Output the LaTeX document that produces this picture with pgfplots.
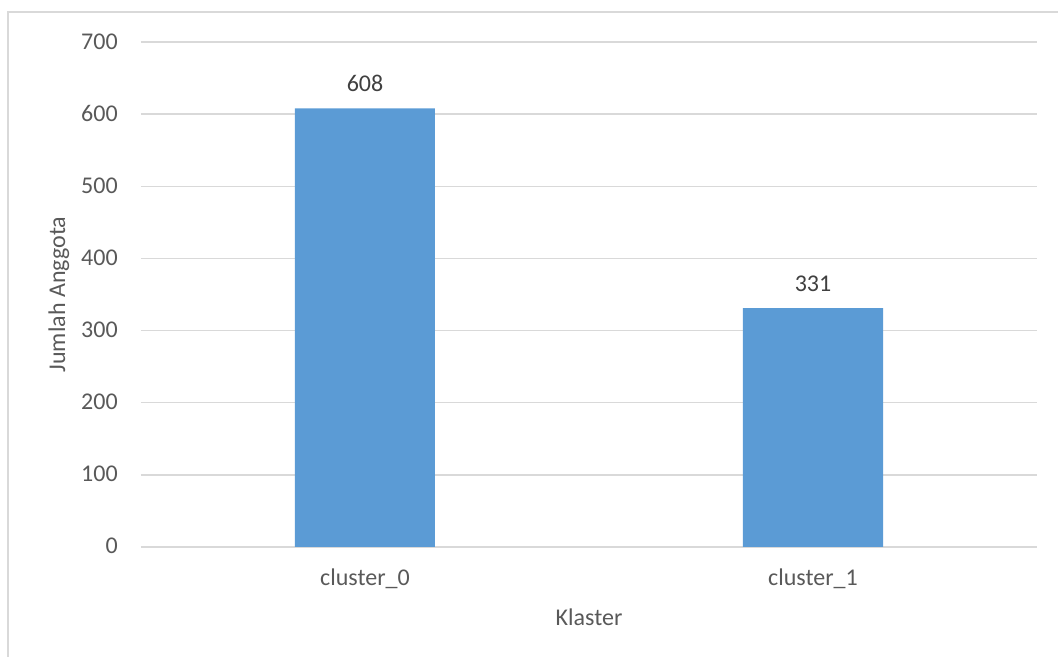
\documentclass[border=0pt]{standalone}
\usepackage{fontspec}
\setmainfont{Carlito}
\usepackage{pgfplots}
\pgfplotsset{compat=1.18}
\definecolor{barblue}{HTML}{5B9BD5}
\definecolor{gridgray}{HTML}{D9D9D9}
\definecolor{labelgray}{HTML}{595959}
\definecolor{valuegray}{HTML}{404040}
\newcommand{\chartfont}{\fontsize{18}{21.6}\selectfont}
\begin{document}
\begin{tikzpicture}
\useasboundingbox (-105.75pt,-82.5pt) rectangle (687.75pt,410.25pt);
% chart area frame
\draw[gridgray, line width=0.9pt] (-99.75pt,-120pt) -- (-99.75pt,401.25pt) -- (740pt,401.25pt);
\begin{axis}[
  at={(0pt,0pt)}, anchor=south west,
  scale only axis, width=672pt, height=378.75pt,
  xmin=-0.5, xmax=1.5, ymin=0, ymax=700,
  ytick={0,100,...,700},
  xtick={0,1}, xticklabels={cluster\_0, cluster\_1},
  ybar, bar width=105pt,
  axis line style={draw=none},
  major tick length=0pt, tick style={draw=none},
  ymajorgrids, grid style={gridgray, line width=1pt},
  /pgf/number format/assume math mode=true,
  tick label style={font=\chartfont, text=labelgray},
  yticklabel style={anchor=base east, inner sep=0pt, xshift=-17.25pt, yshift=-5.25pt},
  xticklabel style={anchor=base, inner sep=0pt, yshift=-29.25pt},
  xlabel={Klaster}, ylabel={Jumlah Anggota},
  label style={font=\chartfont, text=labelgray},
  xlabel style={at={(axis description cs:0.5,-0.1564)}, anchor=base, inner sep=0pt},
  ylabel style={at={(axis description cs:-0.0848,0.5)}, anchor=base, inner sep=0pt},
  nodes near coords,
  nodes near coords style={font=\chartfont, text=valuegray, anchor=base, inner sep=0pt, yshift=12.75pt},
]
\addplot[fill=barblue, draw=none] coordinates {(0,608) (1,331)};
\end{axis}
\end{tikzpicture}
\end{document}
